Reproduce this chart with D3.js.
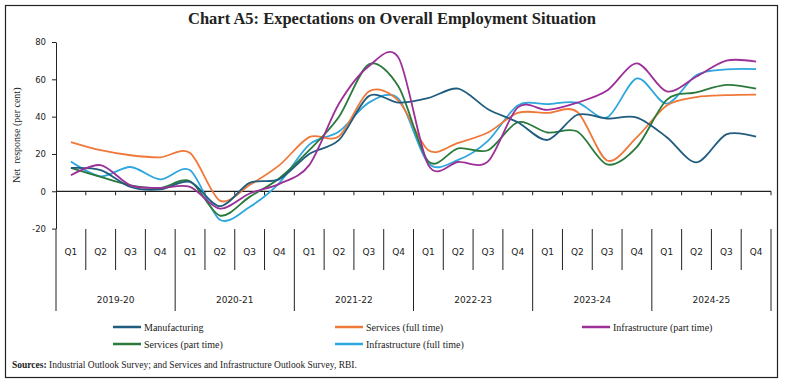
<!DOCTYPE html>
<html>
<head>
<meta charset="utf-8">
<script src="https://cdn.jsdelivr.net/npm/d3@7"></script>
<style>
  body { margin: 0; background: #fff; }
  svg { display: block; }
  .serif { font-family: "Liberation Serif", "DejaVu Serif", serif; }
  .sans { font-family: "DejaVu Sans", Verdana, sans-serif; }
</style>
</head>
<body>
<div id="chart"></div>
<script>
// Quarters and fiscal years on the category axis
var years = ['2019-20', '2020-21', '2021-22', '2022-23', '2023-24', '2024-25'];
var quarters = ['Q1', 'Q2', 'Q3', 'Q4'];
var yTicks = [-20, 0, 20, 40, 60, 80];

// Net response (per cent), one value per quarter
var manufacturing = [12.5, 11.3, 2.3, 1, 5, -8, 4.5, 6.5, 20, 27.5, 51, 47.5,
  50, 55, 44, 37, 27.5, 41, 39, 39.5, 29, 15.5, 30.5, 29.3];
var servicesFull = [26.4, 22, 19.3, 18.2, 20.5, -5, 3.4, 14, 29, 29.5, 53.5, 48.5,
  22, 26, 31.5, 42, 42, 42.5, 16.5, 29, 46, 50.5, 51.5, 51.8];
var infraPart = [8.6, 14, 3.2, 1.8, 2.4, -9.3, -1.2, 4, 14, 47, 67, 71.5,
  14, 15.7, 16, 45, 43.6, 47.5, 54, 68.5, 53.5, 61.5, 70, 69.5];
var servicesPart = [12.5, 7.7, 3.2, 1.8, 5.4, -13, -3, 7, 22, 40, 68, 56,
  16, 23, 22, 37, 31.5, 32, 14.4, 23.8, 49, 53, 57, 55];
var infraFull = [16, 8, 13, 6.4, 11.3, -15.2, -8.4, 4.5, 25, 32, 47.5, 49.5,
  15, 16.8, 27, 46, 46.7, 47.5, 39.6, 60.5, 47, 62.3, 65.3, 65.5];

var series = [
  { name: 'Manufacturing', values: manufacturing, color: '#1f5c7d' },
  { name: 'Services (full time)', values: servicesFull, color: '#f07838' },
  { name: 'Infrastructure (part time)', values: infraPart, color: '#9c2f98' },
  { name: 'Services (part time)', values: servicesPart, color: '#2a7a3c' },
  { name: 'Infrastructure (full time)', values: infraFull, color: '#2ea6de' }
];

var W = 785, H = 385;
var keys = [];
years.forEach(function (yr) { quarters.forEach(function (q) { keys.push(yr + ' ' + q); }); });

var x = d3.scaleBand().domain(keys).range([56, 771]).paddingInner(0).paddingOuter(0);
var y = d3.scaleLinear().domain([-20, 80]).range([228.6, 42]);

var svg = d3.select('#chart').append('svg').attr('width', W).attr('height', H);

// Outer frame
svg.append('rect').attr('x', 5.5).attr('y', 5.5).attr('width', 772).attr('height', 372)
  .attr('fill', 'none').attr('stroke', '#222').attr('stroke-width', 1.2);

// Title
svg.append('text').attr('class', 'serif').attr('x', 392).attr('y', 24)
  .attr('text-anchor', 'middle').attr('font-size', 16.5).attr('font-weight', 'bold')
  .attr('fill', '#222').text('Chart A5: Expectations on Overall Employment Situation');

// Y axis
var yAxis = svg.append('g').attr('transform', 'translate(56,0)')
  .call(d3.axisLeft(y).tickValues(yTicks).tickFormat(function (d) { return String(d); })
    .tickSize(4).tickSizeOuter(0).tickPadding(6));
yAxis.select('.domain').attr('stroke', '#222');
yAxis.selectAll('.tick line').attr('stroke', '#222');
yAxis.selectAll('.tick text').attr('class', 'sans').attr('font-size', 8.5).attr('fill', '#222');

svg.append('text').attr('class', 'serif')
  .attr('transform', 'translate(20,' + y(30) + ') rotate(-90)')
  .attr('text-anchor', 'middle').attr('font-size', 10).attr('fill', '#222')
  .attr('xml:space', 'preserve')
  .text('Net  response (per cent)');

// Zero line with ticks at band boundaries
var y0 = y(0);
svg.append('line').attr('x1', 56).attr('x2', 771).attr('y1', y0).attr('y2', y0)
  .attr('stroke', '#222').attr('stroke-width', 1.2);
var bounds = keys.map(function (k) { return x(k) + x.step(); });
svg.append('g').selectAll('line').data(bounds).join('line')
  .attr('x1', function (d) { return d; }).attr('x2', function (d) { return d; })
  .attr('y1', y0).attr('y2', y0 + 4).attr('stroke', '#222');

// Multi-level category axis under the plot
var catTop = 229, qBottom = 270, yrBottom = 311;
var cat = svg.append('g');
cat.selectAll('line.sep').data(keys).join('line').attr('class', 'sep')
  .attr('x1', function (k) { return x(k); }).attr('x2', function (k) { return x(k); })
  .attr('y1', catTop)
  .attr('y2', function (k, i) { return i % 4 === 0 ? yrBottom : qBottom; })
  .attr('stroke', '#222');
cat.append('line').attr('x1', 771).attr('x2', 771).attr('y1', catTop).attr('y2', yrBottom)
  .attr('stroke', '#222');
cat.selectAll('text.q').data(keys).join('text').attr('class', 'q sans')
  .attr('x', function (k) { return x(k) + x.bandwidth() / 2; }).attr('y', 255)
  .attr('text-anchor', 'middle').attr('font-size', 9).attr('fill', '#222')
  .text(function (k) { return k.split(' ')[1]; });
cat.selectAll('text.yr').data(years).join('text').attr('class', 'yr sans')
  .attr('x', function (yr) { return x(yr + ' Q1') + x.step() * 2; }).attr('y', 303)
  .attr('text-anchor', 'middle').attr('font-size', 9).attr('fill', '#222')
  .text(function (yr) { return yr; });

// Lines
var line = d3.line()
  .x(function (d, i) { return x(keys[i]) + x.bandwidth() / 2; })
  .y(function (d) { return y(d); })
  .curve(d3.curveCardinal.tension(0.1));
var drawOrder = [4, 1, 3, 0, 2];
svg.append('g').selectAll('path').data(drawOrder.map(function (i) { return series[i]; })).join('path')
  .attr('d', function (s) { return line(s.values); })
  .attr('fill', 'none').attr('stroke', function (s) { return s.color; })
  .attr('stroke-width', 1.8);

// Legend
var legendPos = [[113, 327], [335, 327], [582, 327], [113, 344], [335, 344]];
var legend = svg.append('g').selectAll('g').data(series).join('g')
  .attr('transform', function (s, i) { return 'translate(' + legendPos[i][0] + ',' + legendPos[i][1] + ')'; });
legend.append('line').attr('x1', 0).attr('x2', 28).attr('y1', 0).attr('y2', 0)
  .attr('stroke', function (s) { return s.color; }).attr('stroke-width', 2.5);
legend.append('text').attr('class', 'serif').attr('x', 31).attr('y', 3.5)
  .attr('font-size', 10).attr('fill', '#222').text(function (s) { return s.name; });

// Source note
var src = svg.append('text').attr('class', 'serif').attr('x', 12).attr('y', 368)
  .attr('font-size', 9.5).attr('fill', '#222');
src.append('tspan').attr('font-weight', 'bold').text('Sources:');
src.append('tspan').text(' Industrial Outlook Survey; and Services and Infrastructure Outlook Survey, RBI.');
</script>
</body>
</html>
